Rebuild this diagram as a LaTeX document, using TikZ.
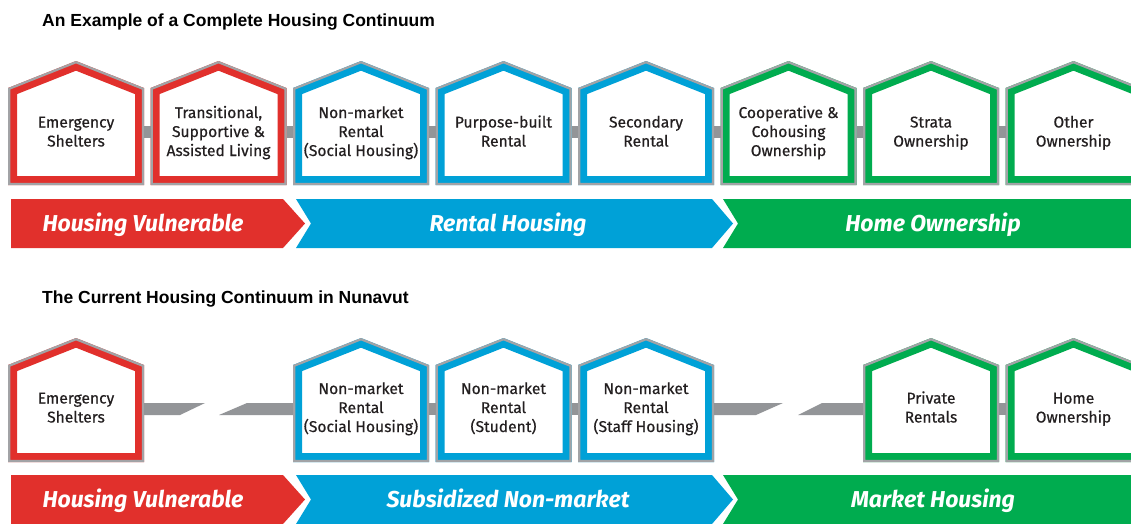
\documentclass[tikz,border=0pt]{standalone}
\usepackage{fontspec}
\setmainfont{Fira Sans}
\newfontfamily\hfont[FakeBold=0.5]{Fira Sans}
\newfontfamily\titlefont{Liberation Sans}
\definecolor{hred}{HTML}{E1302C}
\definecolor{hblue}{HTML}{00A1D7}
\definecolor{hgreen}{HTML}{00AC4F}
\definecolor{hgray}{HTML}{939598}
\definecolor{hedge}{HTML}{A2A3A6}
\definecolor{htxt}{HTML}{231F20}
\tikzset{
  htext/.style={align=center,font=\hfont\fontsize{15.6}{19}\selectfont,text=htxt,inner sep=0pt},
  btext/.style={font=\fontsize{23}{27}\selectfont\bfseries\itshape,text=white,inner sep=0pt,anchor=base},
  ttext/.style={font=\titlefont\bfseries\fontsize{17.5}{20}\selectfont,anchor=base west,inner sep=0pt,text=black},
  bar/.style={fill=hgray},
}
\def\htoff{72}
\newcommand\hhouse[5]{%
  \begin{scope}
    \clip (#2,#3+27) -- (#2+68,#3) -- (#2+136,#3+27) -- (#2+136,#3+124) -- (#2,#3+124) -- cycle;
    \fill[white] (#2,#3) rectangle (#2+136,#3+124);
    \draw[#4,line width=18pt,line join=miter] (#2,#3+27) -- (#2+68,#3) -- (#2+136,#3+27) -- (#2+136,#3+124) -- (#2,#3+124) -- cycle;
    \draw[hedge,line width=4.5pt,line join=miter] (#2,#3+27) -- (#2+68,#3) -- (#2+136,#3+27) -- (#2+136,#3+124) -- (#2,#3+124) -- cycle;
  \end{scope}
  \node[htext] (#1) at (#2+68,#3+\htoff) {\strut #5\strut};
  \coordinate (#1-L) at (#2,#3+65);
  \coordinate (#1-R) at (#2+136,#3+77);
}
\begin{document}
\begin{tikzpicture}[x=1pt,y=-1pt]
\useasboundingbox (0,0) rectangle (1131,523);
\fill[white] (0,0) rectangle (1131,523);

% titles
\node[ttext] (t1) at (42,26.5) {An Example of a Complete Housing Continuum};
\node[ttext] (t2) at (42,303) {The Current Housing Continuum in Nunavut};

% row 1 houses
\def\htoff{72.2}
\hhouse{a1}{8}{61}{hred}{Emergency\\Shelters}
\hhouse{a2}{150.5}{61}{hred}{Transitional,\\Supportive \&\\Assisted Living}
\hhouse{a3}{293}{61}{hblue}{Non-market\\Rental\\(Social Housing)}
\hhouse{a4}{435.5}{61}{hblue}{Purpose-built\\Rental}
\hhouse{a5}{578}{61}{hblue}{Secondary\\Rental}
\hhouse{a6}{720.5}{61}{hgreen}{Cooperative \&\\Cohousing\\Ownership}
\hhouse{a7}{863}{61}{hgreen}{Strata\\Ownership}
\hhouse{a8}{1005.5}{61}{hgreen}{Other\\Ownership}

\fill[bar] (a1-R) rectangle (a2-L);
\fill[bar] (a2-R) rectangle (a3-L);
\fill[bar] (a3-R) rectangle (a4-L);
\fill[bar] (a4-R) rectangle (a5-L);
\fill[bar] (a5-R) rectangle (a6-L);
\fill[bar] (a6-R) rectangle (a7-L);
\fill[bar] (a7-R) rectangle (a8-L);

% row 1 banners
\fill[hred] (11,199) -- (283,199) -- (305,223.5) -- (283,248) -- (11,248) -- cycle;
\fill[hblue] (296,199) -- (712,199) -- (733,223.5) -- (712,248) -- (296,248) -- (311,223.5) -- cycle;
\fill[hgreen] (723,199) -- (1131,199) -- (1131,248) -- (723,248) -- (738,223.5) -- cycle;
\node[btext] (v1) at (143,231.5) {Housing Vulnerable};
\node[btext] (r1) at (508,231.5) {Rental Housing};
\node[btext] (o1) at (933,231.5) {Home Ownership};

% row 2 houses
\def\htoff{71.2}
\hhouse{b1}{8}{338}{hred}{Emergency\\Shelters}
\hhouse{b2}{293}{338}{hblue}{Non-market\\Rental\\(Social Housing)}
\hhouse{b3}{435.5}{338}{hblue}{Non-market\\Rental\\(Student)}
\hhouse{b4}{578}{338}{hblue}{Non-market\\Rental\\(Staff Housing)}
\hhouse{b5}{863}{338}{hgreen}{Private\\Rentals}
\hhouse{b6}{1005.5}{338}{hgreen}{Home\\Ownership}

\fill[bar] (b1-R) -- ++(0,-12) -- ++(61,0) -- ++(-25,12) -- cycle;
\fill[bar] (b2-L) -- ++(0,12) -- ++(-74,0) -- ++(28,-12) -- cycle;
\fill[bar] (b2-R) rectangle (b3-L);
\fill[bar] (b3-R) rectangle (b4-L);
\fill[bar] (b4-R) -- ++(0,-12) -- ++(69,0) -- ++(-27,12) -- cycle;
\fill[bar] (b5-L) -- ++(0,12) -- ++(-65,0) -- ++(24,-12) -- cycle;
\fill[bar] (b5-R) rectangle (b6-L);

% row 2 banners
\fill[hred] (11,475) -- (283,475) -- (305,499.5) -- (283,524) -- (11,524) -- cycle;
\fill[hblue] (296,475) -- (712,475) -- (733,499.5) -- (712,524) -- (296,524) -- (311,499.5) -- cycle;
\fill[hgreen] (723,475) -- (1131,475) -- (1131,524) -- (723,524) -- (738,499.5) -- cycle;
\node[btext] (v2) at (143,507.5) {Housing Vulnerable};
\node[btext] (s2) at (508,507.5) {Subsidized Non-market};
\node[btext] (m2) at (933,507.5) {Market Housing};
\end{tikzpicture}
\end{document}
